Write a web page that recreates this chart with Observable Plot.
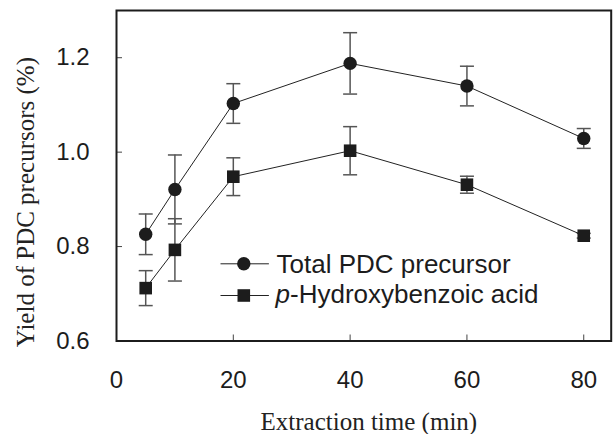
<!DOCTYPE html>
<html><head><meta charset="utf-8">
<script src="https://cdn.jsdelivr.net/npm/d3@7"></script>
<script src="https://cdn.jsdelivr.net/npm/@observablehq/plot@0.6"></script>
<style>body{margin:0;background:#fff}#chart svg{display:block}</style>
</head><body><div id="chart"></div>
<script>
// ---- data ----
const times = [5, 10, 20, 40, 60, 80];
const seriesNames = ["Total PDC precursor", "p-Hydroxybenzoic acid"];
const totalYield = [0.826, 0.921, 1.103, 1.188, 1.140, 1.029];
const totalErr   = [0.043, 0.073, 0.042, 0.065, 0.042, 0.021];
const phbaYield  = [0.712, 0.793, 0.948, 1.003, 0.931, 0.823];
const phbaErr    = [0.037, 0.066, 0.040, 0.051, 0.018, 0.005];
const xTicks = [0, 20, 40, 60, 80];
const yTicks = [0.6, 0.8, 1.0, 1.2];
const xDomain = [0, 84.7];
const yDomain = [0.6, 1.3];
const xLabel = "Extraction time (min)";
const yLabel = "Yield of PDC precursors (%)";

// ---- build table ----
const rows = [
  ...times.map((t, i) => ({series: seriesNames[0], time: t, y: totalYield[i], err: totalErr[i]})),
  ...times.map((t, i) => ({series: seriesNames[1], time: t, y: phbaYield[i], err: phbaErr[i]}))
];
const totalRows = rows.filter(d => d.series === seriesNames[0]);
const phbaRows = rows.filter(d => d.series === seriesNames[1]);

// ---- layout ----
const W = 614, H = 434;
const mL = 116, mR = 3.3, mT = 10, mB = 93.5;
const plotW = W - mL - mR, plotH = H - mT - mB;

const hline = (w) => ({draw(ctx) { ctx.moveTo(-w, 0); ctx.lineTo(w, 0); }});
const cap = hline(7);
const legendLine = hline(24.2);

const errColor = "#555";
const ink = "#1c1c1c";

const legendRow1 = -77.2, legendRow2 = -45.5;

const chart = Plot.plot({
  width: W, height: H,
  marginLeft: mL, marginRight: mR, marginTop: mT, marginBottom: mB,
  x: {domain: xDomain},
  y: {domain: yDomain},
  style: {fontFamily: "'Liberation Sans', Arial, sans-serif", fontSize: "24px", color: ink, background: "#fff"},
  marks: [
    // inward ticks
    Plot.tickX(xTicks.slice(1), {x: d => d, stroke: "#444", strokeWidth: 1, insetTop: plotH - 6}),
    Plot.tickY(yTicks.slice(1), {y: d => d, stroke: "#444", strokeWidth: 1, insetRight: plotW - 6}),
    // tick labels
    Plot.axisX({ticks: xTicks, tickSize: 0, tickPadding: 30, label: null, tickFormat: d3.format("d"), fill: ink}),
    Plot.axisY({ticks: yTicks, tickSize: 0, tickPadding: 27, label: null, tickFormat: d3.format(".1f"), fill: ink}),
    // axis titles
    Plot.text([xLabel], {x: null, y: null, text: d => d, frameAnchor: "bottom", textAnchor: "middle", lineAnchor: "bottom",
      dx: 5, dy: 89, fontFamily: "'Liberation Serif', 'Times New Roman', serif", fontSize: 25, fill: "#222"}),
    Plot.text([yLabel], {x: null, y: null, text: d => d, frameAnchor: "left", textAnchor: "middle", lineAnchor: "bottom", rotate: -90,
      dx: -82.7, dy: 26.4, fontFamily: "'Liberation Serif', 'Times New Roman', serif", fontSize: 25, fill: "#222"}),
    // error bars
    Plot.ruleX(rows, {x: "time", y1: d => d.y - d.err, y2: d => d.y + d.err, stroke: errColor, strokeWidth: 1.5}),
    Plot.dot(rows, {x: "time", y: d => d.y + d.err, symbol: cap, stroke: errColor, strokeWidth: 1.5, fill: "none"}),
    Plot.dot(rows, {x: "time", y: d => d.y - d.err, symbol: cap, stroke: errColor, strokeWidth: 1.5, fill: "none"}),
    // lines
    Plot.line(rows, {x: "time", y: "y", z: "series", stroke: "#222", strokeWidth: 1}),
    // markers
    Plot.dot(totalRows, {x: "time", y: "y", symbol: "circle", r: 6.7, fill: ink, stroke: "none"}),
    Plot.dot(phbaRows, {x: "time", y: "y", symbol: "square", r: 7.1, fill: ink, stroke: "none"}),
    // frame
    Plot.frame({stroke: ink, strokeWidth: 2}),
    // legend
    Plot.dot([seriesNames[0]], {x: null, y: null, frameAnchor: "bottom-left", dx: 128.2, dy: legendRow1, symbol: legendLine, stroke: "#222", strokeWidth: 1, fill: "none"}),
    Plot.dot([seriesNames[1]], {x: null, y: null, frameAnchor: "bottom-left", dx: 128.2, dy: legendRow2, symbol: legendLine, stroke: "#222", strokeWidth: 1, fill: "none"}),
    Plot.dot([seriesNames[0]], {x: null, y: null, frameAnchor: "bottom-left", dx: 127.3, dy: legendRow1, symbol: "circle", r: 6.7, fill: ink, stroke: "none"}),
    Plot.dot([seriesNames[1]], {x: null, y: null, frameAnchor: "bottom-left", dx: 127.3, dy: legendRow2, symbol: "square", r: 7.1, fill: ink, stroke: "none"}),
    Plot.text([seriesNames[0]], {x: null, y: null, text: d => d, frameAnchor: "bottom-left", textAnchor: "start", lineAnchor: "middle",
      dx: 160, dy: legendRow1 + 0.5, fontSize: 26, fill: ink}),
    Plot.text([seriesNames[1].slice(0, 1)], {x: null, y: null, text: d => d, frameAnchor: "bottom-left", textAnchor: "start", lineAnchor: "middle",
      dx: 159, dy: legendRow2 - 1, fontSize: 26, fontStyle: "italic", fill: ink}),
    Plot.text([seriesNames[1].slice(1)], {x: null, y: null, text: d => d, frameAnchor: "bottom-left", textAnchor: "start", lineAnchor: "middle",
      dx: 159 + 14.5, dy: legendRow2 - 1, fontSize: 26, fill: ink})
  ]
});
document.getElementById("chart").append(chart);
</script>
</body></html>
